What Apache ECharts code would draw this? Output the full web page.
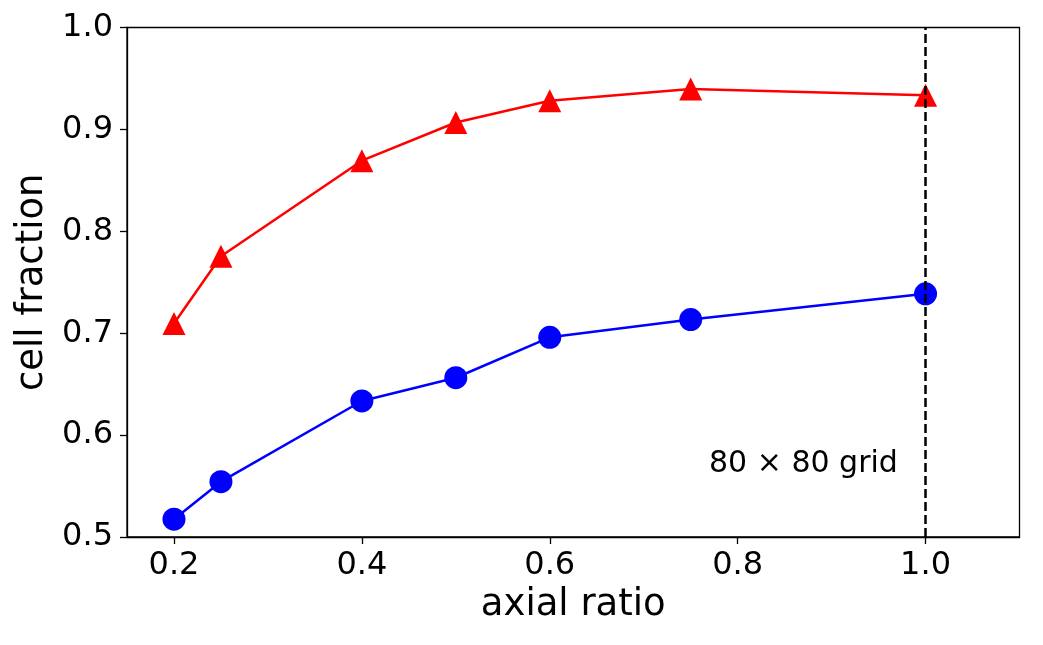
<!DOCTYPE html>
<html>
<head>
<meta charset="utf-8">
<script src="https://cdn.jsdelivr.net/npm/echarts@6/dist/echarts.min.js"></script>
<style>
  html, body { margin: 0; padding: 0; background: #fff; }
  #main { width: 1043px; height: 645px; }
</style>
</head>
<body>
<div id="main"></div>
<script>
"use strict";

var ratios = [0.2, 0.25, 0.4, 0.5, 0.6, 0.75, 1.0];
var redVals = [0.7095, 0.7755, 0.8693, 0.9068, 0.9281, 0.9396, 0.9335];
var blueVals = [0.5175, 0.5543, 0.6335, 0.6563, 0.696, 0.7134, 0.7387];
var xTicks = [0.2, 0.4, 0.6, 0.8, 1.0];
var refX = 1.0;
var noteText = "80 \u00d7 80 grid";
var notePos = [0.87, 0.5716];

var font = "DejaVu Sans";

function pairs(xs, ys) {
    var a = [];
    for (var i = 0; i < xs.length; i++) { a.push([xs[i], ys[i]]); }
    return a;
}

var chart = echarts.init(document.getElementById("main"));

var option = {
    animation: false,
    backgroundColor: "#fff",
    grid: {
        left: 127, right: 23.5, top: 27.5, bottom: 108,
        show: true, borderColor: "#000", borderWidth: 1.3
    },
    xAxis: {
        type: "value", min: 0.15, max: 1.1,
        name: "axial ratio", nameLocation: "middle", nameGap: 48,
        nameTextStyle: { fontFamily: font, fontSize: 37, color: "#000" },
        splitLine: { show: false },
        axisLine: { show: true, onZero: false, lineStyle: { color: "#000", width: 1.3 } },
        axisTick: { show: true, length: 7, lineStyle: { color: "#000", width: 1.3 }, customValues: xTicks },
        axisLabel: {
            fontFamily: font, fontSize: 32, color: "#000", margin: 13,
            customValues: xTicks,
            formatter: function(v) { return v.toFixed(1); }
        }
    },
    yAxis: {
        type: "value", min: 0.5, max: 1.0, interval: 0.1,
        name: "cell fraction", nameLocation: "middle", nameGap: 76,
        nameTextStyle: { fontFamily: font, fontSize: 37, color: "#000" },
        splitLine: { show: false },
        axisLine: { show: true, lineStyle: { color: "#000", width: 1.3 } },
        axisTick: { show: true, length: 7, lineStyle: { color: "#000", width: 1.3 } },
        axisLabel: {
            fontFamily: font, fontSize: 32, color: "#000", margin: 14,
            formatter: function(v) { return v.toFixed(1); }
        }
    },
    series: [
        {
            type: "line", data: [], z: 1, silent: true,
            markLine: {
                silent: true, symbol: "none", animation: false,
                label: { show: false },
                lineStyle: { color: "#000", width: 2.5, type: [9, 4] },
                data: [{ xAxis: refX }]
            }
        },
        {
            name: "red", type: "line", data: pairs(ratios, redVals), z: 3,
            symbol: "triangle", symbolSize: 23,
            lineStyle: { color: "#ff0000", width: 2.5 },
            itemStyle: { color: "#ff0000" }
        },
        {
            name: "blue", type: "line", data: pairs(ratios, blueVals), z: 3,
            symbol: "circle", symbolSize: 23,
            lineStyle: { color: "#0000ff", width: 2.5 },
            itemStyle: { color: "#0000ff" }
        }
    ]
};

chart.setOption(option);

// annotation placed through the axis scales
var pt = chart.convertToPixel({ gridIndex: 0 }, notePos);
chart.setOption({
    graphic: [{
        type: "text", x: pt[0], y: pt[1], silent: true,
        style: {
            text: noteText, fill: "#000", fontFamily: font, fontSize: 30,
            align: "center", verticalAlign: "middle"
        }
    }]
});
</script>
</body>
</html>
